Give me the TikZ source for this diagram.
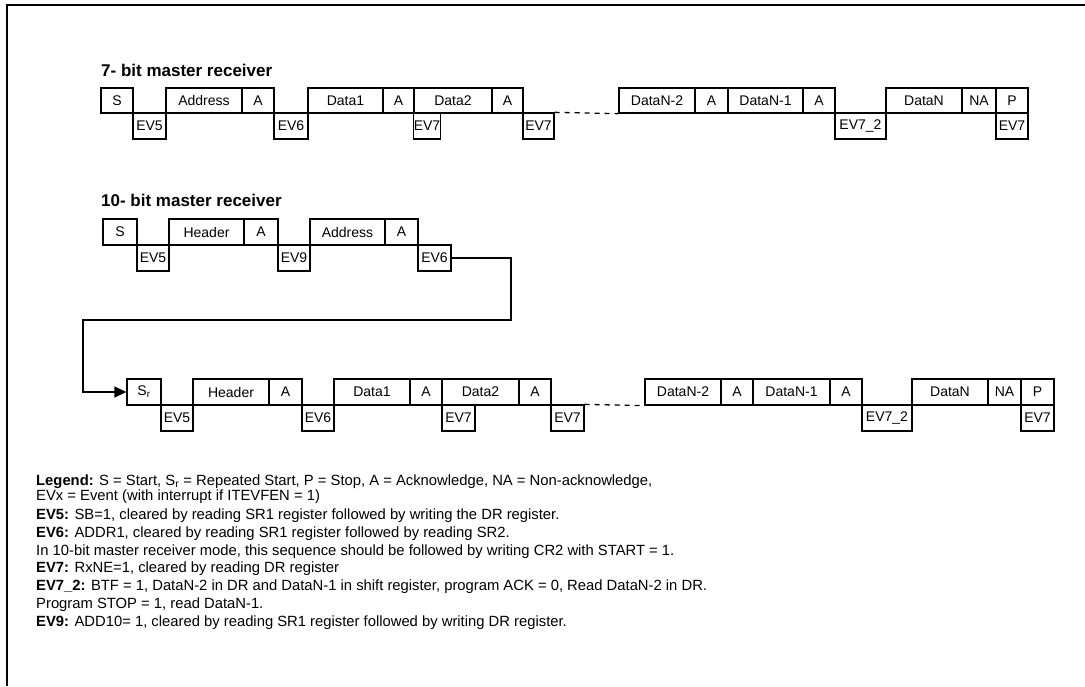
\documentclass[tikz,border=0pt]{standalone}
\usepackage{fontspec}
\setmainfont{Liberation Sans}
\usetikzlibrary{arrows.meta}
\tikzset{cell/.style={draw,line width=1.3pt,inner sep=0pt,font=\fontsize{14}{16}\selectfont},
  legline/.style={anchor=west,inner sep=0pt,font=\fontsize{14.8}{16}\selectfont},
  rowtitle/.style={anchor=west,inner sep=0pt,font=\bfseries\fontsize{17}{19}\selectfont},
  gap/.style={line width=1.3pt,dash pattern=on 5pt off 5pt}}
% a cell: name, left, right, top, bottom, text
\newcommand{\cellbox}[6]{\node[cell,minimum width=#3pt-#2pt,minimum height=#5pt-#4pt]
  (#1) at ({(#2+#3)/2},{(#4+#5)/2}) {#6};}

\begin{document}
\begin{tikzpicture}[x=1pt,y=-1pt]
      \useasboundingbox (0,0) rectangle (1085,686);
      \draw[line width=1.5pt] (7,686)--(7,5)--(1085,5);
      % 7-bit row
      \node[rowtitle] (t7) at (101,70) {7- bit master receiver};
      \foreach \n/\a/\b/\t in {a1/101/133/S,a2/166/242/Address,a3/242/274/A,a4/308/383/Data1,
          a5/383/414/A,a6/414/492/Data2,a7/492/523/A,a8/619/695/DataN-2,a9/695/728/A,
          a10/728/803/DataN-1,a11/803/835/A,a12/886/962/DataN,a13/962/996/NA,a14/996/1028/P}
        {\cellbox{\n}{\a}{\b}{88}{113}{\t}}
      \foreach \n/\a/\b/\t in {b1/133/166/EV5,b2/274/308/EV6,b3/414/440/EV7,b4/523/554/EV7,
          b5/835/886/EV7\_2,b6/996/1028/EV7}
        {\cellbox{\n}{\a}{\b}{113}{139}{\t}}
      \draw[gap] (b4.north east)--(a8.south west);
      % 10-bit row
      \node[rowtitle] (t10) at (101,200) {10- bit master receiver};
      \foreach \n/\a/\b/\t in {c1/103/137/S,c2/169/244/Header,c3/244/278/A,c4/310/385/Address,c5/385/418/A}
        {\cellbox{\n}{\a}{\b}{219}{245}{\t}}
      \foreach \n/\a/\b/\t in {d1/137/169/EV5,d2/278/310/EV9,d3/418/451/EV6}
        {\cellbox{\n}{\a}{\b}{245}{271}{\t}}
      % restart row
      \foreach \n/\a/\b/\t in {e1/127/161/S\textsubscript{r},e2/193/269/Header,e3/269/302/A,e4/334/410/Data1,
          e5/410/442/A,e6/442/519/Data2,e7/519/551/A,e8/645/721/DataN-2,e9/721/753/A,
          e10/753/830/DataN-1,e11/830/862/A,e12/912/988/DataN,e13/988/1021/NA,e14/1021/1054/P}
        {\cellbox{\n}{\a}{\b}{379}{405}{\t}}
      \foreach \n/\a/\b/\t in {f1/161/193/EV5,f2/302/334/EV6,f3/442/475/EV7,f4/551/584/EV7,
          f5/862/912/EV7\_2,f6/1021/1054/EV7}
        {\cellbox{\n}{\a}{\b}{405}{431}{\t}}
      \draw[gap] (f4.north east)--(e8.south west);
      \coordinate (turn) at (511,320);
      \coordinate (back) at (83,320);
      \draw[line width=1.3pt,-{Triangle[length=12pt,width=11pt]}] (d3.east) -| (turn) -- (back) |- (e1.west);
      % legend
      \node[legline] (l1) at (36,482) {\textbf{Legend:} S = Start, S\textsubscript{r} = Repeated Start, P = Stop, A = Acknowledge, NA = Non-acknowledge,};
      \node[legline] (l2) at (36,497) {EVx = Event (with interrupt if ITEVFEN = 1)};
      \node[legline] (l3) at (36,516) {\textbf{EV5:} SB=1, cleared by reading SR1 register followed by writing the DR register.};
      \node[legline] (l4) at (36,534) {\textbf{EV6:} ADDR1, cleared by reading SR1 register followed by reading SR2.};
      \node[legline] (l5) at (36,552) {In 10-bit master receiver mode, this sequence should be followed by writing CR2 with START = 1.};
      \node[legline] (l6) at (36,569) {\textbf{EV7:} RxNE=1, cleared by reading DR register};
      \node[legline] (l7) at (36,587) {\textbf{EV7\_2:} BTF = 1, DataN-2 in DR and DataN-1 in shift register, program ACK = 0, Read DataN-2 in DR.};
      \node[legline] (l8) at (36,605) {Program STOP = 1, read DataN-1.};
      \node[legline] (l9) at (36,623) {\textbf{EV9:} ADD10= 1, cleared by reading SR1 register followed by writing DR register.};
\end{tikzpicture}
\end{document}
